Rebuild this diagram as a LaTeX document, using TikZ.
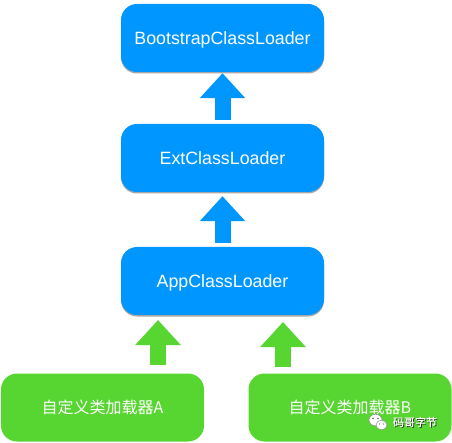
\documentclass[tikz,border=0pt]{standalone}
\usepackage{xcolor}
\usepackage{fontspec}
\setmainfont{Liberation Sans}
\newfontfamily\cjkfont{Noto Sans CJK SC}
\usetikzlibrary{positioning,arrows.meta,shadows}
\definecolor{loaderblue}{RGB}{0,150,255}
\definecolor{loadergreen}{RGB}{87,213,49}

\begin{document}
\begin{tikzpicture}[x=1pt, y=-1pt,
    loader/.style={rectangle, rounded corners=16pt, minimum width=203pt, minimum height=68pt, inner sep=0pt, text=white, align=center, text height=12.7pt, text depth=0pt, font=\fontsize{17.8pt}{20pt}\selectfont},
    sysloader/.style={loader, fill=loaderblue, drop shadow={shadow xshift=0pt, shadow yshift=-1.5pt, opacity=0.35, fill=black}},
    userloader/.style={loader, fill=loadergreen, font=\fontsize{16pt}{20pt}\selectfont\cjkfont},
    parentflow/.style={draw=loaderblue, line width=16pt, -{Triangle[width=44pt, length=25pt]}},
    userflow/.style={parentflow, draw=loadergreen},
    markfont/.style={font=\fontsize{11pt}{13pt}\selectfont\cjkfont}]
    \useasboundingbox (0,0) rectangle (452,443);

    \node[sysloader] (app) at (222.5,281) {AppClassLoader};
    \node[sysloader, above of=app, node distance=123pt] (ext) {ExtClassLoader};
    \node[sysloader, above of=ext, node distance=120pt] (boot) {BootstrapClassLoader};

    \node[userloader] (usera) at (102.5,407.5) {自定义类加载器A};
    \node[userloader] (userb) at (350,407.5) {自定义类加载器B};

    \coordinate (appa) at (158,315);
    \coordinate (appb) at (283,315);

    \draw[parentflow, shorten <=4pt, shorten >=1pt] (ext) -- (boot);
    \draw[parentflow, shorten <=4pt, shorten >=4pt] (app) -- (ext);
    \draw[userflow, shorten <=8pt, shorten >=5pt] (usera.north -| appa) -- (appa);
    \draw[userflow, shorten <=6pt, shorten >=7pt] (userb.north -| appb) -- (appb);

    \fill[white, draw=black!45, line width=0.5pt] (375.5,420) ellipse (6.5pt and 5.8pt);
    \fill[white, draw=black!45, line width=0.5pt] (381.5,425) ellipse (5.5pt and 4.8pt);
    \fill[black!60] (373,418.5) circle (0.8pt) (378,418.5) circle (0.8pt) (379.5,424) circle (0.6pt) (383.5,424) circle (0.6pt);
    \node[markfont, text=black!85] (markshade) at (416,423) {码哥字节};
    \node[markfont, text=white, font=\fontsize{11pt}{13pt}\selectfont\cjkfont\addfontfeature{FakeBold=0.4}] (mark) at (415,422) {码哥字节};
\end{tikzpicture}
\end{document}
